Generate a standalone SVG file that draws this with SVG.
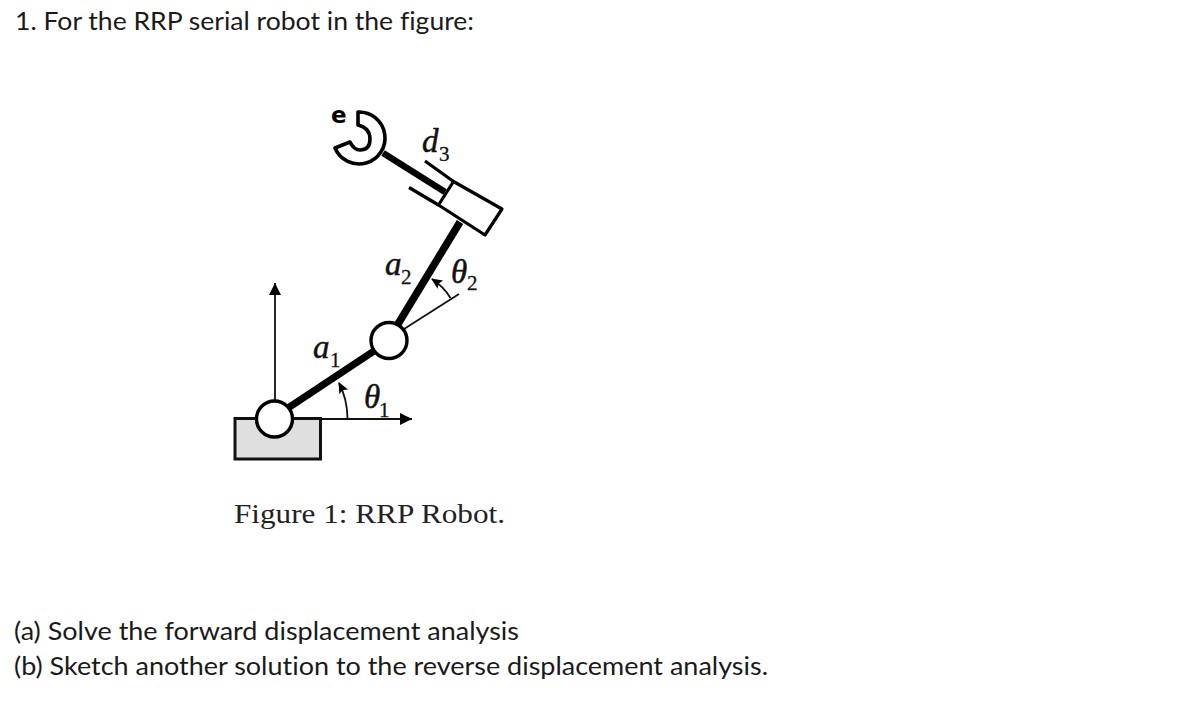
<svg xmlns="http://www.w3.org/2000/svg" width="1178" height="704" viewBox="0 0 1178 704">
<style>
.t{font-family:Lato,"Liberation Sans",sans-serif;font-size:25.5px;fill:#1a1a1a;font-variant-ligatures:none}
.c{font-family:"Liberation Serif",serif;font-size:27.5px;fill:#222}
.m{font-family:"Liberation Serif",serif;font-style:italic;font-size:33px;fill:#111;stroke:#111;stroke-width:.5}
.s{font-family:"Liberation Serif",serif;font-size:21px;fill:#111;stroke:#111;stroke-width:.3}
.thick{fill:none;stroke:#000}
.thin{fill:none;stroke:#111;stroke-width:1.8}
.j{fill:#fff;stroke:#000;stroke-width:3.4}
</style>
<defs>
<marker id="big" markerUnits="userSpaceOnUse" markerWidth="14" markerHeight="14" refX="12" refY="6" orient="auto"><path d="M0,0L12,6L0,12z" fill="#000"/></marker>
<marker id="small" markerUnits="userSpaceOnUse" markerWidth="12" markerHeight="12" refX="10" refY="5" orient="auto"><path d="M0,0L11,5L0,10L2,5z" fill="#000"/></marker>
</defs>
<rect width="1178" height="704" fill="#fff"/>
<text class="t" x="15" y="30" textLength="459" lengthAdjust="spacingAndGlyphs">1. For the RRP serial robot in the figure:</text>
<g id="base"><rect x="235" y="418.5" width="85.5" height="40.5" fill="#dfdfdf" stroke="#111" stroke-width="3"/></g>
<g id="connectors">
<path class="thin" d="M275,400V283" marker-end="url(#big)" stroke-width="2"/>
<path class="thin" d="M320,419H412" marker-end="url(#big)"/>
<path class="thin" d="M347.5,418Q347,398 339,383" marker-end="url(#small)"/>
<path class="thin" d="M404,329L459,294" stroke-width="1.3"/>
<path class="thin" d="M450.5,298Q444,287 432,279" marker-end="url(#small)"/>
<path class="thick" stroke-width="7" d="M288,408L374,351"/>
<path class="thick" stroke-width="7.5" d="M398,324L460,222"/>
<path class="thick" stroke-width="6.5" d="M383,153L445,192"/>
</g>
<g id="cylinder">
<path d="M453.5,181.5L502,209L485,235L438.5,205z" fill="#fff" stroke="#000" stroke-width="3.2" stroke-linejoin="round"/>
<path class="thick" stroke-width="3.2" d="M425,161L453.5,181.5M409,187.5L438.5,205"/>
</g>
<g id="gripper">
<path d="M358,112A26,26 0 1 1 335,148L350,142Q354,150 360,150Q370,150 370,139Q370,128 358,125z" fill="#fff" stroke="#000" stroke-width="3.6" stroke-linejoin="round"/>
<text x="331" y="123" font-family="DejaVu Sans,sans-serif" font-weight="700" font-size="23" fill="#000">e</text>
</g>
<g id="joint1"><circle class="j" cx="274.5" cy="419" r="18"/></g>
<g id="joint2"><circle class="j" cx="389" cy="340.5" r="18"/></g>
<g id="labels">
<text class="m" x="422" y="152">d</text><text class="s" x="439" y="161">3</text>
<text class="m" x="385" y="275">a</text><text class="s" x="401" y="284">2</text>
<text class="m" x="451" y="283">θ</text><text class="s" x="467" y="290">2</text>
<text class="m" x="313" y="358">a</text><text class="s" x="330" y="367">1</text>
<text class="m" x="364" y="408">θ</text><text class="s" x="379" y="417">1</text>
</g>
<text class="c" x="234" y="523" textLength="271" lengthAdjust="spacingAndGlyphs">Figure 1: RRP Robot.</text>
<text class="t" x="14" y="640" textLength="505" lengthAdjust="spacingAndGlyphs">(a) Solve the forward displacement analysis</text>
<text class="t" x="14" y="675" textLength="754" lengthAdjust="spacingAndGlyphs">(b) Sketch another solution to the reverse displacement analysis.</text>
</svg>
